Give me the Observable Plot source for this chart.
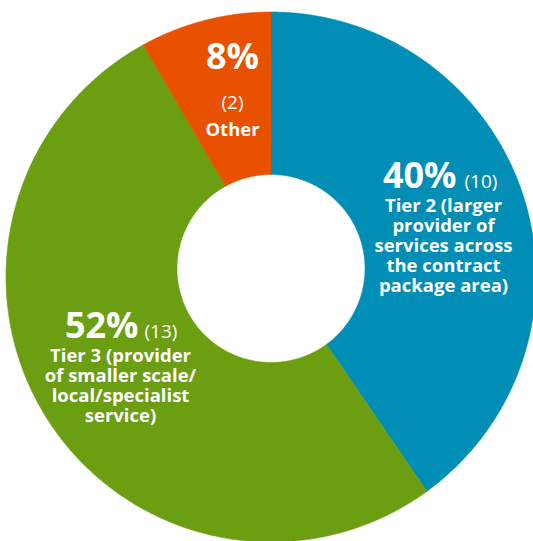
<!DOCTYPE html>
<html>
<head>
<meta charset="utf-8">
<script src="https://cdn.jsdelivr.net/npm/d3@7"></script>
<script src="https://cdn.jsdelivr.net/npm/@observablehq/plot@0.6"></script>
<style>
  html, body { margin: 0; padding: 0; background: #fff; }
  #chart { width: 533px; height: 541px; overflow: hidden; }
  svg { display: block; }
</style>
</head>
<body>
<div id="chart"></div>
<script>
// ---- data ----
const categories = ["Tier 2", "Tier 3", "Other"];
const counts = [10, 13, 2];
const percentLabels = ["40%", "52%", "8%"];
const countLabels = ["(10)", "(13)", "(2)"];
const nameLabels = [
  "Tier 2 (larger\nprovider of\nservices across\nthe contract\npackage area)",
  "Tier 3 (provider\nof smaller scale/\nlocal/specialist\nservice)",
  "Other"
];
const colors = ["#008db6", "#6b9e11", "#e85100"];

// ---- layout ----
const W = 533, H = 541;
const OUTER = {cx: 271, cy: 277, r: 265};
const INNER = {cx: 271, cy: 268.5, r: 94};
const FONT = "'Open Sans', Lato, sans-serif";
// label anchors per slice (layout only)
const pctPos = [{x: 456, y: 187}, {x: 138, y: 337}, {x: 258, y: 68}];
const cntPos = [{x: 464, y: 187}, {x: 144, y: 337}, {x: 232, y: 108}];
const namePos = [{x: 443, y: 197}, {x: 120, y: 347}, {x: 232, y: 121}];

// ---- derived geometry from values ----
const total = d3.sum(counts);
const ring = [];
let acc = 0;
categories.forEach((c, i) => {
  const a0 = acc / total * 2 * Math.PI;
  acc += counts[i];
  const a1 = acc / total * 2 * Math.PI;
  const n = Math.max(8, Math.ceil((a1 - a0) * 120));
  for (let k = 0; k <= n; k++) {
    const a = a0 + (a1 - a0) * k / n;
    ring.push({
      cat: c,
      x1: OUTER.cx + OUTER.r * Math.sin(a),
      y1: OUTER.cy - OUTER.r * Math.cos(a),
      x2: INNER.cx + INNER.r * Math.sin(a),
      y2: INNER.cy - INNER.r * Math.cos(a)
    });
  }
});

const pctData = categories.map((c, i) => ({cat: c, label: percentLabels[i], ...pctPos[i]}));
const cntData = categories.map((c, i) => ({cat: c, label: countLabels[i], ...cntPos[i]}));
const nameData = categories.map((c, i) => ({cat: c, label: nameLabels[i], ...namePos[i]}));

const big = 36, small = 18.5, cnt = 19;
const chart = Plot.plot({
  width: W,
  height: H,
  margin: 0,
  style: {background: "white", fontFamily: FONT},
  x: {domain: [0, W], range: [0, W], axis: null},
  y: {domain: [0, H], range: [0, H], axis: null},
  color: {domain: categories, range: colors},
  marks: [
    Plot.area(ring, {x1: "x1", y1: "y1", x2: "x2", y2: "y2", fill: "cat", stroke: "cat", strokeWidth: 0.6, z: "cat"}),
    // big percentages
    Plot.text(pctData.filter(d => d.cat !== "Other"), {x: "x", y: d => d.y - 0.32 * big, text: "label", fill: "white", fontSize: big, fontWeight: 700, textAnchor: "end", lineAnchor: "middle"}),
    Plot.text(pctData.filter(d => d.cat === "Other"), {x: d => d.x - 26, y: d => d.y - 0.32 * big, text: "label", fill: "white", fontSize: big, fontWeight: 700, textAnchor: "middle", lineAnchor: "middle"}),
    // counts
    Plot.text(cntData.filter(d => d.cat !== "Other"), {x: "x", y: d => d.y - 0.32 * cnt, text: "label", fill: "white", fontSize: cnt, fontWeight: 400, textAnchor: "start", lineAnchor: "middle"}),
    Plot.text(cntData.filter(d => d.cat === "Other"), {x: "x", y: d => d.y - 0.32 * cnt, text: "label", fill: "white", fontSize: cnt, fontWeight: 400, textAnchor: "middle", lineAnchor: "middle"}),
    // names
    Plot.text(nameData, {x: "x", y: "y", text: "label", fill: "white", fontSize: small, fontWeight: 700, textAnchor: "middle", lineAnchor: "top", lineHeight: 1.08})
  ]
});
document.getElementById("chart").appendChild(chart);
</script>
</body>
</html>
